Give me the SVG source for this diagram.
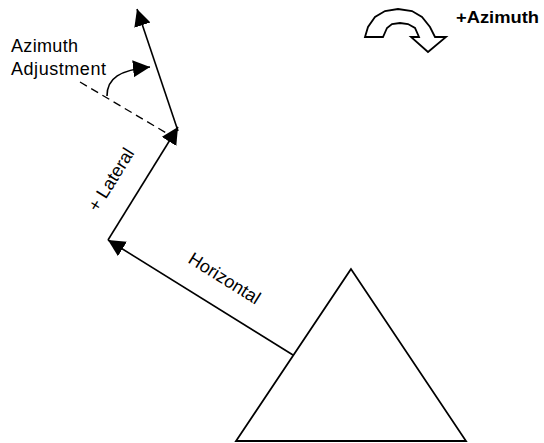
<svg xmlns="http://www.w3.org/2000/svg" width="544" height="443" viewBox="0 0 544 443">
<style>
.ln{stroke:#000;stroke-width:1.6;fill:none}
.dash{stroke:#000;stroke-width:1.3;fill:none;stroke-dasharray:8 5}
.lbl{font-family:"Liberation Sans",Arial,sans-serif;font-size:18px;fill:#000}
.bold{font-family:"Liberation Sans",Arial,sans-serif;font-size:17px;font-weight:bold;fill:#000}
.shape{fill:#fff;stroke:#000;stroke-width:1.8;stroke-linejoin:miter}
</style>
<defs>
<marker id="ah" markerUnits="userSpaceOnUse" markerWidth="18" markerHeight="18" refX="17" refY="8.5" orient="auto">
<path d="M0,0 L17,8.5 L0,17 Z" fill="#000"/>
</marker>
</defs>
<rect width="544" height="443" fill="#fff"/>
<g id="station">
<polygon class="shape" points="351,269 236,441 466,441"/>
</g>
<g id="azimuth-icon">
<path class="shape" stroke-width="1.5" d="M365,37 L368,27 L375,17 L385,11 L398,9 L412,11 L422,17 L430,27 L435,37 L446,37 L428,52 L411,37 L419,37 L415,28 L408,24 L400,23 L392,24 L387,28 L383,37 Z"/>
<text class="bold" x="456" y="23" textLength="83" lengthAdjust="spacingAndGlyphs">+Azimuth</text>
</g>
<g id="connectors">
<path class="ln" d="M293,355 L108,240" marker-end="url(#ah)"/>
<path class="ln" d="M108,240 L178,127" marker-end="url(#ah)"/>
<path class="ln" d="M178,131 L137,9" marker-end="url(#ah)"/>
<path class="dash" d="M80,82 L168,134"/>
<path class="ln" d="M107,96 C107,78 120,70 150,67" marker-end="url(#ah)"/>
</g>
<g id="labels">
<text class="lbl" x="11" y="52" textLength="67" lengthAdjust="spacing">Azimuth</text>
<text class="lbl" x="11" y="75" textLength="95" lengthAdjust="spacing">Adjustment</text>
<text class="lbl" transform="translate(97.6,212.8) rotate(-58)">+ Lateral</text>
<text class="lbl" transform="translate(187,262) rotate(32)">Horizontal</text>
</g>
</svg>
